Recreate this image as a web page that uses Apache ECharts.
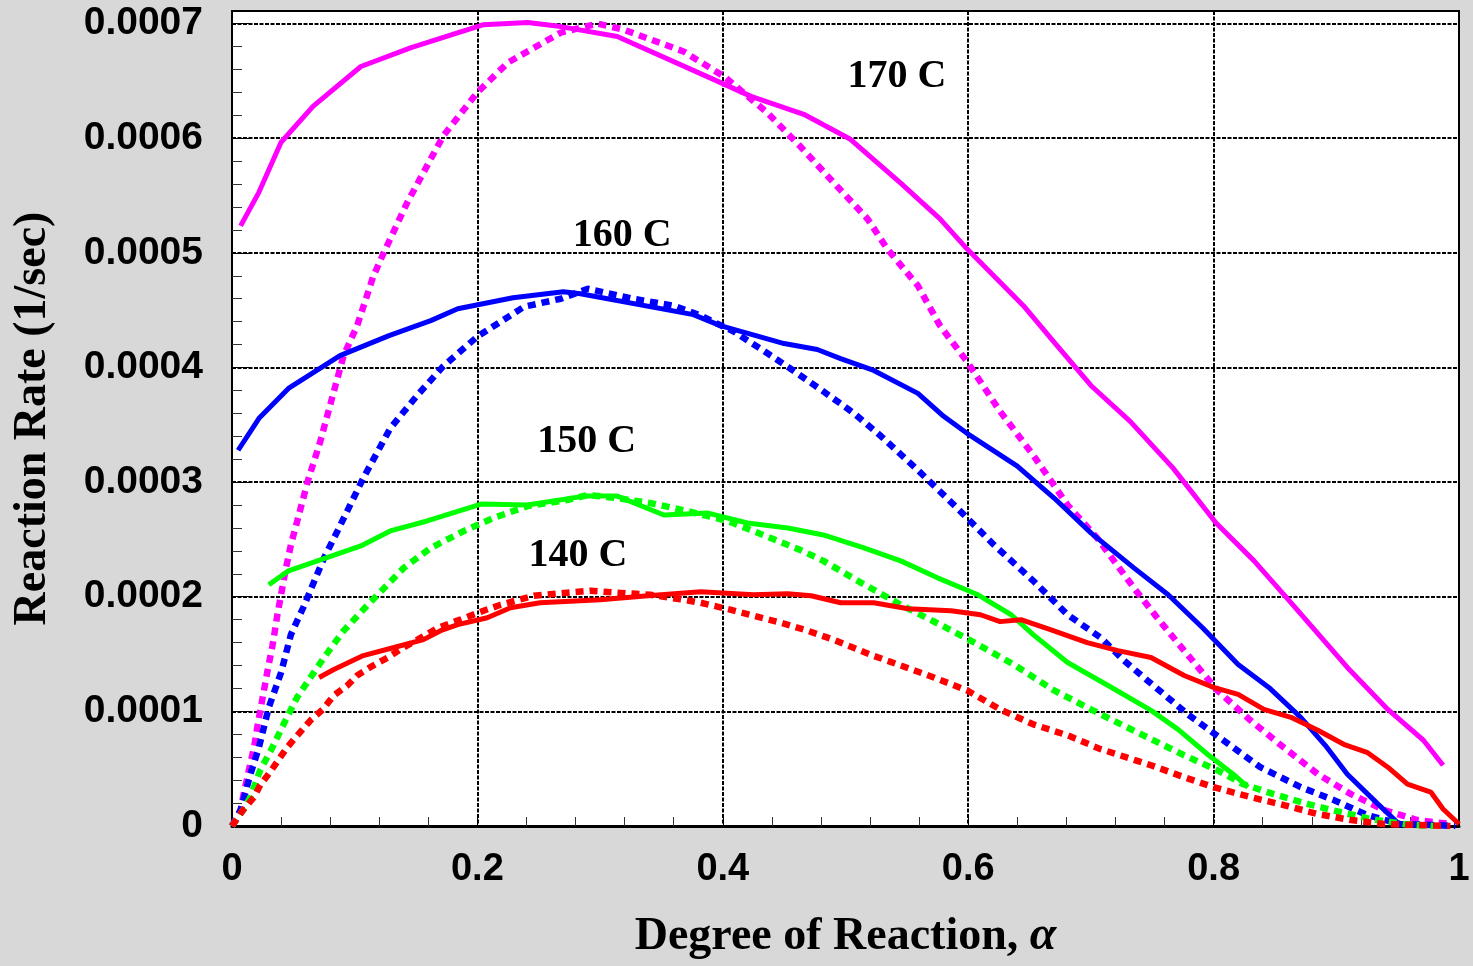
<!DOCTYPE html>
<html>
<head>
<meta charset="utf-8">
<title>Reaction Rate vs Degree of Reaction</title>
<script src="https://cdn.jsdelivr.net/npm/echarts@6/dist/echarts.min.js"></script>
<style>
  html, body { margin: 0; padding: 0; background: #d8d8d8; }
  #chart { width: 1473px; height: 966px; }
</style>
</head>
<body>
<div id="chart"></div>
<script>
// y values are given in units of 1e-4 1/sec, x is degree of reaction
var yUnit = 1e-4;

var xTickLabels = ['0', '0.2', '0.4', '0.6', '0.8', '1'];
var yTickLabels = ['0', '0.0001', '0.0002', '0.0003', '0.0004', '0.0005', '0.0006', '0.0007'];

// 170 C
var solid170 = [
    [0.007, 5.235], [0.022, 5.53], [0.040, 5.965], [0.066, 6.278], [0.105, 6.626],
    [0.146, 6.791], [0.205, 6.991], [0.241, 7.009], [0.268, 6.974], [0.314, 6.887],
    [0.396, 6.496], [0.423, 6.365], [0.466, 6.209], [0.504, 5.991], [0.545, 5.609],
    [0.577, 5.296], [0.599, 5.035], [0.645, 4.539], [0.671, 4.209], [0.700, 3.843],
    [0.732, 3.530], [0.767, 3.122], [0.802, 2.643], [0.833, 2.313], [0.863, 1.948],
    [0.909, 1.383], [0.942, 1.017], [0.971, 0.748], [0.987, 0.530]
];
var dash170 = [
    [0, 0], [0.007, 0.139], [0.009, 0.252], [0.013, 0.452], [0.018, 0.687],
    [0.021, 0.887], [0.025, 1.122], [0.029, 1.357], [0.033, 1.574], [0.037, 1.843],
    [0.044, 2.252], [0.048, 2.452], [0.062, 3.017], [0.072, 3.357], [0.083, 3.791],
    [0.091, 4.104], [0.102, 4.365], [0.115, 4.791], [0.124, 5.009], [0.143, 5.443],
    [0.172, 6.017], [0.200, 6.4], [0.225, 6.661], [0.268, 6.922], [0.298, 7.0],
    [0.319, 6.948], [0.368, 6.757], [0.401, 6.539], [0.436, 6.226], [0.463, 5.930],
    [0.490, 5.617], [0.518, 5.296], [0.534, 5.035], [0.559, 4.713], [0.577, 4.365],
    [0.599, 4.052], [0.626, 3.617], [0.653, 3.235], [0.681, 2.8], [0.705, 2.513],
    [0.735, 2.078], [0.754, 1.817], [0.776, 1.530], [0.803, 1.183], [0.830, 0.922],
    [0.857, 0.687], [0.885, 0.452], [0.912, 0.278], [0.939, 0.139], [0.966, 0.052],
    [0.993, 0.017]
];

// 160 C
var solid160 = [
    [0.005, 3.278], [0.022, 3.557], [0.046, 3.817], [0.088, 4.104], [0.128, 4.278],
    [0.162, 4.409], [0.184, 4.513], [0.229, 4.609], [0.270, 4.661], [0.284, 4.643],
    [0.376, 4.461], [0.398, 4.365], [0.450, 4.209], [0.477, 4.157], [0.496, 4.078],
    [0.523, 3.974], [0.559, 3.774], [0.580, 3.574], [0.599, 3.426], [0.640, 3.139],
    [0.670, 2.861], [0.700, 2.557], [0.735, 2.252], [0.763, 2.017], [0.791, 1.730],
    [0.820, 1.409], [0.845, 1.209], [0.871, 0.948], [0.891, 0.704], [0.909, 0.452],
    [0.934, 0.191], [0.952, 0.009]
];
var dash160 = [
    [0, 0], [0.007, 0.139], [0.015, 0.452], [0.022, 0.687], [0.030, 1.035],
    [0.040, 1.339], [0.048, 1.670], [0.058, 1.904], [0.075, 2.339], [0.086, 2.574],
    [0.107, 3.035], [0.129, 3.470], [0.151, 3.757], [0.172, 4.009], [0.200, 4.270],
    [0.238, 4.530], [0.268, 4.6], [0.290, 4.687], [0.327, 4.6], [0.360, 4.539],
    [0.382, 4.452], [0.409, 4.313], [0.433, 4.148], [0.455, 3.991], [0.482, 3.791],
    [0.507, 3.6], [0.529, 3.4], [0.559, 3.104], [0.591, 2.774], [0.621, 2.452],
    [0.653, 2.139], [0.681, 1.843], [0.708, 1.643], [0.727, 1.443], [0.746, 1.270],
    [0.779, 0.974], [0.808, 0.748], [0.838, 0.513], [0.871, 0.339], [0.898, 0.226],
    [0.925, 0.096], [0.952, 0.017], [0.979, 0.009], [0.997, 0]
];

// 150 C
var solid150 = [
    [0.030, 2.104], [0.046, 2.226], [0.072, 2.322], [0.105, 2.443], [0.129, 2.574],
    [0.159, 2.661], [0.203, 2.809], [0.241, 2.8], [0.287, 2.878], [0.314, 2.878],
    [0.352, 2.713], [0.388, 2.730], [0.420, 2.643], [0.453, 2.6], [0.482, 2.539],
    [0.515, 2.426], [0.545, 2.313], [0.575, 2.165], [0.608, 2.017], [0.635, 1.843],
    [0.653, 1.670], [0.681, 1.426], [0.714, 1.226], [0.749, 1.009], [0.771, 0.843],
    [0.795, 0.626], [0.816, 0.452], [0.828, 0.339]
];
var dash150 = [
    [0, 0], [0.009, 0.139], [0.015, 0.252], [0.023, 0.487], [0.033, 0.687],
    [0.042, 0.887], [0.053, 1.122], [0.064, 1.296], [0.075, 1.47], [0.091, 1.704],
    [0.110, 1.922], [0.140, 2.252], [0.162, 2.426], [0.189, 2.574], [0.213, 2.687],
    [0.241, 2.791], [0.273, 2.843], [0.290, 2.887], [0.314, 2.861], [0.341, 2.817],
    [0.371, 2.748], [0.404, 2.661], [0.433, 2.539], [0.463, 2.409], [0.482, 2.313],
    [0.510, 2.139], [0.545, 1.930], [0.577, 1.757], [0.608, 1.583], [0.637, 1.409],
    [0.670, 1.183], [0.708, 0.974], [0.746, 0.774], [0.776, 0.617], [0.803, 0.487],
    [0.824, 0.365], [0.849, 0.278], [0.877, 0.191], [0.903, 0.122], [0.928, 0.061],
    [0.955, 0.017], [0.979, 0]
];

// 140 C
var solid140 = [
    [0.071, 1.296], [0.083, 1.365], [0.107, 1.487], [0.132, 1.557], [0.156, 1.626],
    [0.170, 1.704], [0.184, 1.757], [0.208, 1.817], [0.227, 1.904], [0.251, 1.948],
    [0.300, 1.974], [0.339, 2.009], [0.382, 2.043], [0.425, 2.017], [0.453, 2.026],
    [0.472, 2.009], [0.496, 1.948], [0.523, 1.948], [0.551, 1.896], [0.586, 1.878],
    [0.610, 1.843], [0.626, 1.783], [0.643, 1.800], [0.667, 1.713], [0.697, 1.600],
    [0.722, 1.530], [0.749, 1.470], [0.776, 1.313], [0.800, 1.209], [0.820, 1.148],
    [0.841, 1.017], [0.863, 0.948], [0.885, 0.835], [0.906, 0.713], [0.925, 0.643],
    [0.942, 0.513], [0.958, 0.365], [0.977, 0.296], [0.987, 0.148], [1.0, 0.017]
];
var dash140 = [
    [0, 0], [0.009, 0.139], [0.018, 0.252], [0.023, 0.357], [0.031, 0.470],
    [0.045, 0.687], [0.054, 0.8], [0.064, 0.922], [0.074, 1.017], [0.083, 1.139],
    [0.094, 1.226], [0.102, 1.313], [0.115, 1.4], [0.127, 1.470], [0.137, 1.539],
    [0.154, 1.643], [0.168, 1.730], [0.186, 1.8], [0.205, 1.878], [0.219, 1.930],
    [0.246, 2.009], [0.273, 2.035], [0.292, 2.052], [0.314, 2.035], [0.341, 2.017],
    [0.368, 1.974], [0.382, 1.948], [0.406, 1.887], [0.425, 1.835], [0.447, 1.774],
    [0.469, 1.704], [0.490, 1.626], [0.520, 1.496], [0.545, 1.4], [0.572, 1.296],
    [0.599, 1.183], [0.626, 1.017], [0.653, 0.887], [0.681, 0.791], [0.708, 0.670],
    [0.749, 0.530], [0.776, 0.426], [0.800, 0.339], [0.830, 0.252], [0.857, 0.183],
    [0.885, 0.104], [0.912, 0.052], [0.939, 0.017], [0.966, 0.009], [0.993, 0]
];

// temperature labels (position in data units)
var tempLabels = [
    {text: '170 C', x: 0.542, y: 6.54},
    {text: '160 C', x: 0.318, y: 5.15},
    {text: '150 C', x: 0.289, y: 3.35},
    {text: '140 C', x: 0.282, y: 2.36}
];

var chart = echarts.init(document.getElementById('chart'));

function toXY(arr) {
    return arr.map(function (p) { return [p[0], p[1] * yUnit]; });
}

function lineSeries(name, data, color, dashed) {
    return {
        name: name,
        type: 'line',
        data: toXY(data),
        showSymbol: false,
        symbol: 'none',
        smooth: false,
        z: 5,
        lineStyle: {
            color: color,
            width: dashed ? 6.5 : 5,
            type: dashed ? [8, 6] : 'solid',
            cap: 'butt',
            opacity: 1
        }
    };
}

var gridLine = {
    show: true,
    lineStyle: { color: '#000', width: 2, type: [4, 1.5] }
};

var option = {
    backgroundColor: '#d8d8d8',
    animation: false,
    grid: {
        left: 232,
        right: 14,
        top: 11,
        bottom: 137,
        show: true,
        backgroundColor: '#fff',
        borderColor: '#000',
        borderWidth: 2
    },
    xAxis: {
        type: 'value',
        min: 0,
        max: 1,
        interval: 0.2,
        name: '{a|Degree of Reaction, }{b|α}',
        nameLocation: 'middle',
        nameGap: 87,
        nameTextStyle: {
            rich: {
                a: { fontFamily: 'Liberation Serif', fontWeight: 'bold', fontSize: 46, color: '#000' },
                b: { fontFamily: 'Liberation Serif', fontWeight: 'bold', fontStyle: 'italic', fontSize: 48, color: '#000' }
            }
        },
        axisLine: { show: true, onZero: false, lineStyle: { color: '#000', width: 3 } },
        axisTick: { show: true, inside: true, length: 12, lineStyle: { color: '#000', width: 1 } },
        minorTick: { show: true, splitNumber: 5, length: 9, lineStyle: { color: '#333', width: 1 } },
        splitLine: gridLine,
        axisLabel: {
            margin: 25,
            fontFamily: 'Liberation Sans',
            fontWeight: 'bold',
            fontSize: 38,
            color: '#000',
            formatter: function (v) {
                var i = Math.round(v / 0.2);
                return Math.abs(v - i * 0.2) < 1e-6 ? xTickLabels[i] : '';
            }
        }
    },
    yAxis: {
        type: 'value',
        min: 0,
        max: 0.000711,
        interval: 0.0001,
        name: 'Reaction Rate (1/sec)',
        nameLocation: 'middle',
        nameGap: 176,
        nameTextStyle: {
            fontFamily: 'Liberation Serif',
            fontWeight: 'bold',
            fontSize: 46,
            color: '#000'
        },
        axisLine: { show: true, lineStyle: { color: '#000', width: 2 } },
        axisTick: { show: true, inside: true, length: 20, lineStyle: { color: '#000', width: 1 } },
        minorTick: { show: true, splitNumber: 5, length: 10, lineStyle: { color: '#333', width: 1 } },
        splitLine: gridLine,
        axisLabel: {
            margin: 29,
            fontFamily: 'Liberation Sans',
            fontWeight: 'bold',
            fontSize: 39,
            color: '#000',
            formatter: function (v) {
                var i = Math.round(v / yUnit);
                return Math.abs(v - i * yUnit) < 1e-9 && i < yTickLabels.length ? yTickLabels[i] : '';
            }
        }
    },
    series: [
        lineSeries('170 C', solid170, '#ff00ff', false),
        lineSeries('170 C model', dash170, '#ff00ff', true),
        lineSeries('160 C', solid160, '#0000ff', false),
        lineSeries('160 C model', dash160, '#0000ff', true),
        lineSeries('150 C', solid150, '#00ff00', false),
        lineSeries('150 C model', dash150, '#00ff00', true),
        lineSeries('140 C', solid140, '#ff0000', false),
        lineSeries('140 C model', dash140, '#ff0000', true),
        {
            name: 'labels',
            type: 'scatter',
            symbolSize: 0,
            z: 10,
            silent: true,
            itemStyle: { opacity: 1 },
            data: tempLabels.map(function (d) {
                return { value: [d.x, d.y * yUnit], name: d.text };
            }),
            label: {
                show: true,
                position: 'inside',
                formatter: function (p) { return p.name; },
                fontFamily: 'Liberation Serif',
                fontWeight: 'bold',
                fontSize: 40,
                color: '#000',
                opacity: 1,
                textBorderWidth: 0,
                textBorderColor: 'transparent'
            }
        }
    ]
};

chart.setOption(option);
</script>
</body>
</html>
